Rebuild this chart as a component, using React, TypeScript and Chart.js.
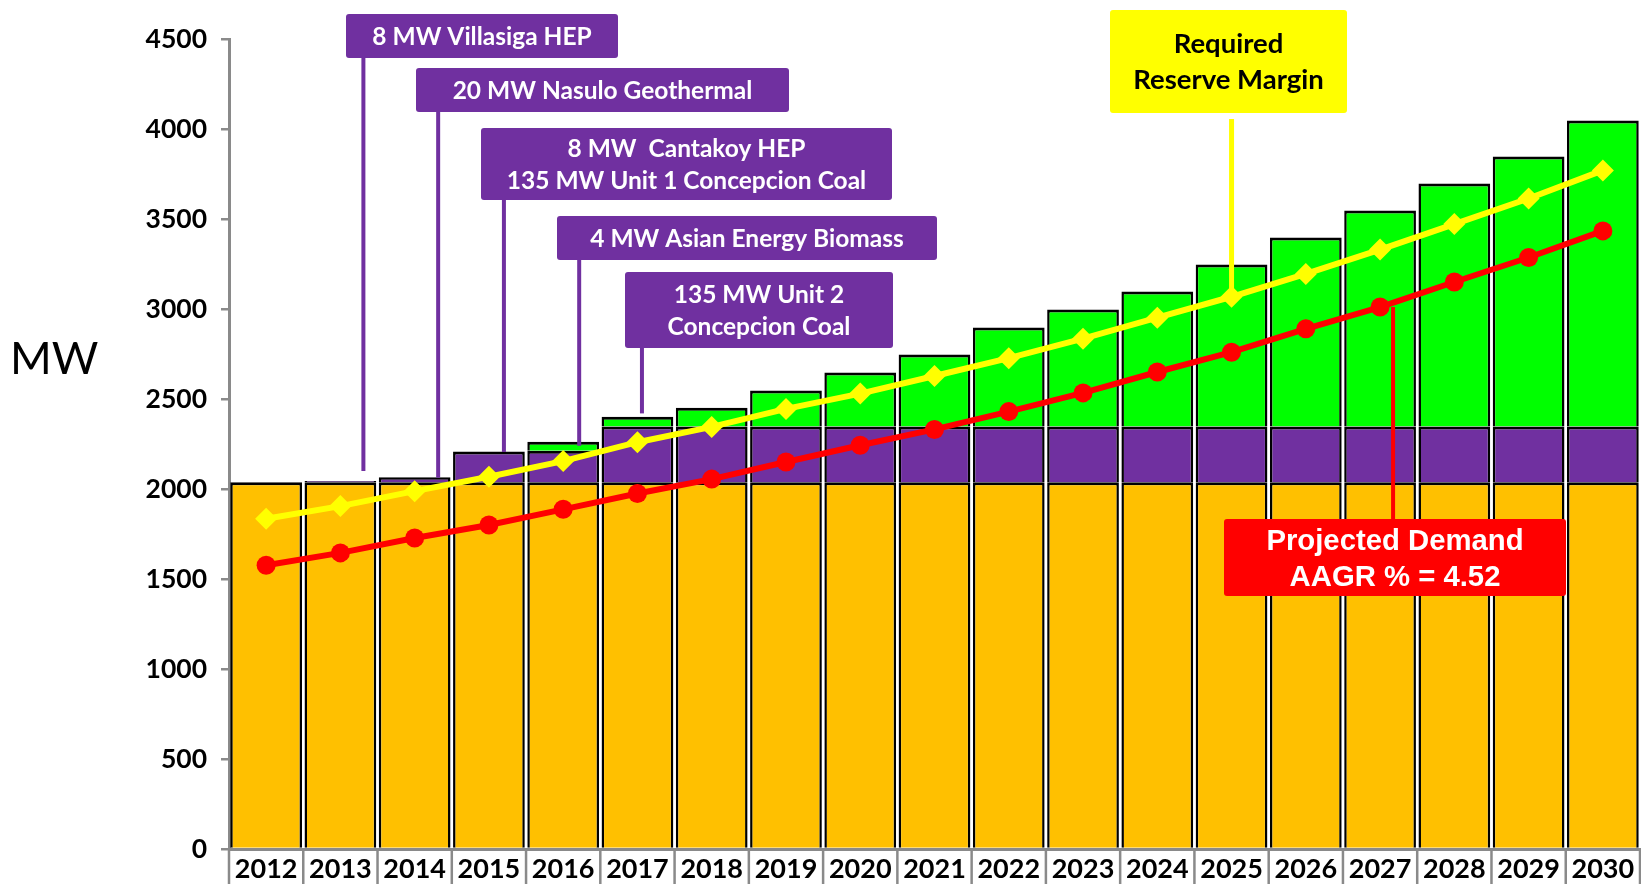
import React, { useEffect, useRef } from 'react';
import { Chart, registerables } from 'chart.js';

Chart.register(...registerables);

// ---------- DATA ----------
const years = ['2012', '2013', '2014', '2015', '2016', '2017', '2018', '2019', '2020', '2021', '2022', '2023', '2024', '2025', '2026', '2027', '2028', '2029', '2030'];
const existingCapacity = [2037, 2037, 2037, 2037, 2037, 2037, 2037, 2037, 2037, 2037, 2037, 2037, 2037, 2037, 2037, 2037, 2037, 2037, 2037];
const committedCapacity = [0, 8, 28, 171, 175, 310, 310, 310, 310, 310, 310, 310, 310, 310, 310, 310, 310, 310, 310];
const indicativeCapacity = [0, 0, 0, 0, 50, 55, 105, 200, 300, 400, 550, 650, 750, 900, 1050, 1200, 1350, 1500, 1700];
const requiredReserveMargin = [1835, 1905, 1988, 2068, 2155, 2260, 2345, 2445, 2530, 2628, 2727, 2835, 2952, 3068, 3195, 3330, 3472, 3614, 3770];
const projectedDemand = [1576, 1645, 1728, 1800, 1887, 1975, 2055, 2150, 2243, 2331, 2430, 2534, 2650, 2760, 2890, 3011, 3150, 3286, 3434];
const yMin = 0;
const yMax = 4500;
const yStep = 500;
const yAxisTitle = 'MW';

// ---------- CALLOUTS ----------
const purpleNotes = [
  { lines: ['8 MW Villasiga HEP'], box: [346, 14, 272, 44], idx: 1, dx: 23, end: 2100 },
  { lines: ['20 MW Nasulo Geothermal'], box: [416, 68, 373, 44], idx: 2, dx: 23.5, end: 2063 },
  { lines: ['8 MW  Cantakoy HEP', '135 MW Unit 1 Concepcion Coal'], box: [481, 128, 411, 72], idx: 3, dx: 15, end: 2206 },
  { lines: ['4 MW Asian Energy Biomass'], box: [557, 216, 380, 44], idx: 4, dx: 16, end: 2240 },
  { lines: ['135 MW Unit 2', 'Concepcion Coal'], box: [625, 272, 268, 76], idx: 5, dx: 4.5, end: 2420 },
];
const reserveNote = { lines: ['Required', 'Reserve Margin'], box: [1110, 10, 237, 103], idx: 13, dx: 0, start: 119 };
const demandNote = { lines: ['Projected Demand', 'AAGR % = 4.52'], box: [1224, 519, 342, 77], idx: 15, dx: 13 };

const ORANGE = '#FFC000';
const PURPLE = '#7030A0';
const GREEN = '#00FF00';
const YELLOW = '#FFFF00';
const RED = '#FF0000';
const AXIS_GRAY = '#8a8a8a';
const LABEL_FONT = 'Lato';

function drawBoxText(ctx: CanvasRenderingContext2D, lines: string[], box: number[], font: string, size: number, color: string, gap: number, capRatio: number) {
  const [x, y, w, h] = box;
  const cx = x + w / 2;
  const cy = y + h / 2;
  ctx.font = `bold ${size}px ${font}`;
  ctx.fillStyle = color;
  ctx.textAlign = 'center';
  ctx.textBaseline = 'alphabetic';
  const n = lines.length;
  lines.forEach((t, i) => {
    const mid = cy + (i - (n - 1) / 2) * gap;
    ctx.fillText(t, cx, mid + (capRatio * size) / 2);
  });
}

function fillBox(ctx: CanvasRenderingContext2D, box: number[], color: string) {
  const [x, y, w, h] = box;
  ctx.fillStyle = color;
  ctx.beginPath();
  (ctx as any).roundRect(x, y, w, h, 3);
  ctx.fill();
}

const notesPlugin = {
  id: 'notes',
  afterDraw(chart: any) {
    const ctx: CanvasRenderingContext2D = chart.ctx;
    const xs = chart.scales.x;
    const ys = chart.scales.y;
    ctx.save();

    // category separators below the x axis
    const n = years.length;
    ctx.strokeStyle = AXIS_GRAY;
    ctx.lineWidth = 2.5;
    for (let i = 0; i <= n; i++) {
      const x = xs.left + (i * (xs.right - xs.left)) / n;
      ctx.beginPath();
      ctx.moveTo(x, xs.top);
      ctx.lineTo(x, xs.bottom);
      ctx.stroke();
    }

    // MW title
    ctx.font = `45px ${LABEL_FONT}`;
    ctx.fillStyle = '#000';
    ctx.textAlign = 'left';
    ctx.textBaseline = 'alphabetic';
    ctx.fillText(yAxisTitle, 10, 374);

    // purple leaders + boxes
    ctx.lineWidth = 4;
    ctx.strokeStyle = PURPLE;
    purpleNotes.forEach((nt) => {
      const x = xs.getPixelForValue(nt.idx) + nt.dx;
      ctx.beginPath();
      ctx.moveTo(x, nt.box[1] + nt.box[3] - 1);
      ctx.lineTo(x, ys.getPixelForValue(nt.end));
      ctx.stroke();
    });
    purpleNotes.forEach((nt) => {
      fillBox(ctx, nt.box, PURPLE);
      drawBoxText(ctx, nt.lines, nt.box, LABEL_FONT, 24.5, '#fff', 32, 0.72);
    });

    // reserve margin callout
    {
      const x = xs.getPixelForValue(reserveNote.idx) + reserveNote.dx;
      ctx.strokeStyle = YELLOW;
      ctx.lineWidth = 5;
      ctx.beginPath();
      ctx.moveTo(x, reserveNote.start);
      ctx.lineTo(x, ys.getPixelForValue(requiredReserveMargin[reserveNote.idx]));
      ctx.stroke();
      fillBox(ctx, reserveNote.box, YELLOW);
      drawBoxText(ctx, reserveNote.lines, reserveNote.box, LABEL_FONT, 27.5, '#000', 36, 0.72);
    }

    // demand callout
    {
      const x = xs.getPixelForValue(demandNote.idx) + demandNote.dx;
      ctx.strokeStyle = RED;
      ctx.lineWidth = 4;
      ctx.beginPath();
      ctx.moveTo(x, ys.getPixelForValue(projectedDemand[demandNote.idx]));
      ctx.lineTo(x, demandNote.box[1] + 1);
      ctx.stroke();
      fillBox(ctx, demandNote.box, RED);
      drawBoxText(ctx, demandNote.lines, demandNote.box, '"Liberation Sans", Arial, sans-serif', 29.3, '#fff', 36.5, 0.716);
    }

    ctx.restore();
  },
};

const barBorder = { top: 3, left: 2.5, right: 2.5, bottom: 0 };

export default function App() {
  const ref = useRef<HTMLCanvasElement>(null);

  useEffect(() => {
    let chart: Chart | null = null;
    let cancelled = false;
    const make = () => {
      if (cancelled || !ref.current) return;
      chart = new Chart(ref.current, {
        type: 'bar',
        data: {
          labels: years,
          datasets: [
            {
              type: 'line',
              label: 'Projected Demand',
              data: projectedDemand,
              borderColor: RED,
              backgroundColor: RED,
              borderWidth: 6,
              pointStyle: 'circle',
              pointRadius: 9.5,
              pointBorderWidth: 0,
              pointBackgroundColor: RED,
              tension: 0,
              stack: 'demand',
              order: 0,
              clip: false as any,
            } as any,
            {
              type: 'line',
              label: 'Required Reserve Margin',
              data: requiredReserveMargin,
              borderColor: YELLOW,
              backgroundColor: YELLOW,
              borderWidth: 6,
              pointStyle: 'rectRot',
              pointRadius: 11,
              pointBorderWidth: 0,
              pointBackgroundColor: YELLOW,
              tension: 0,
              stack: 'reserve',
              order: 0,
              clip: false as any,
            } as any,
            {
              label: 'Existing',
              data: existingCapacity,
              backgroundColor: ORANGE,
              borderColor: '#000',
              borderWidth: barBorder,
              borderSkipped: false,
              stack: 'cap',
              order: 1,
            } as any,
            {
              label: 'Committed',
              data: committedCapacity,
              backgroundColor: PURPLE,
              borderColor: '#000',
              borderWidth: barBorder,
              borderSkipped: false,
              stack: 'cap',
              order: 1,
            } as any,
            {
              label: 'Indicative',
              data: indicativeCapacity,
              backgroundColor: GREEN,
              borderColor: '#000',
              borderWidth: barBorder,
              borderSkipped: false,
              stack: 'cap',
              order: 1,
            } as any,
          ],
        },
        options: {
          responsive: false,
          animation: false,
          devicePixelRatio: 1,
          layout: { autoPadding: false, padding: { top: 39, right: 1, bottom: 0, left: 0 } },
          plugins: { legend: { display: false }, tooltip: { enabled: false } },
          datasets: { bar: { categoryPercentage: 1, barPercentage: 0.966 } } as any,
          scales: {
            x: {
              stacked: true,
              offset: true,
              afterFit: (s: any) => { s.height = 35; s.paddingLeft = 0; s.paddingRight = 0; },
              grid: { display: true, drawOnChartArea: false, drawTicks: false, color: AXIS_GRAY },
              border: { display: true, color: AXIS_GRAY, width: 3 },
              ticks: { color: '#000', font: { family: LABEL_FONT, size: 27, weight: 'bold' }, padding: 4, maxRotation: 0, autoSkip: false },
            },
            y: {
              stacked: true,
              min: yMin,
              max: yMax,
              afterFit: (s: any) => { s.width = 229; },
              grid: { display: true, drawOnChartArea: false, drawTicks: true, tickLength: 8, color: AXIS_GRAY, lineWidth: 2.5 },
              border: { display: true, color: AXIS_GRAY, width: 3 },
              ticks: {
                stepSize: yStep,
                color: '#000',
                font: { family: LABEL_FONT, size: 26.5, weight: 'bold' },
                padding: 14,
                callback: (v: any) => String(v),
              },
            },
          },
        } as any,
        plugins: [notesPlugin],
      });
    };
    const fonts: Promise<any>[] = [
      document.fonts.load(`bold 26px ${LABEL_FONT}`),
      document.fonts.load(`44px ${LABEL_FONT}`),
      document.fonts.load('bold 28px "Liberation Sans"'),
    ];
    Promise.all(fonts).then(make, make);
    return () => {
      cancelled = true;
      if (chart) chart.destroy();
    };
  }, []);

  return (
    <div style={{ position: 'fixed', left: 0, top: 0, width: 1641, height: 884, background: '#fff' }}>
      <canvas ref={ref} width={1641} height={884} style={{ display: 'block', width: 1641, height: 884 }} />
    </div>
  );
}
